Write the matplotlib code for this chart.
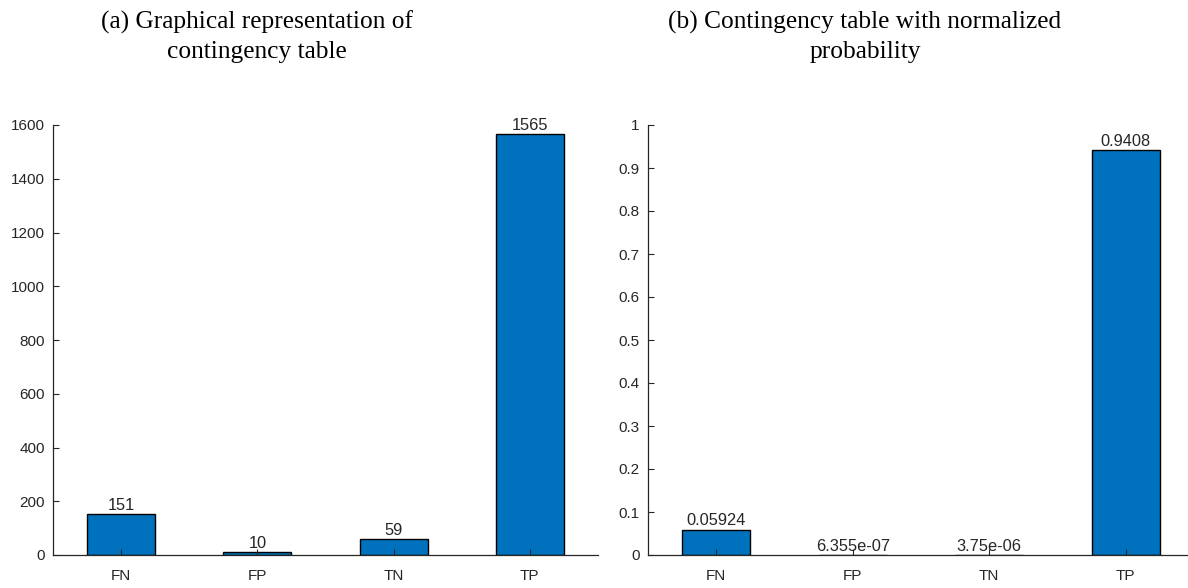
import numpy as np
import matplotlib
matplotlib.use("Agg")
import matplotlib.pyplot as plt

categories = ["FN", "FP", "TN", "TP"]
counts = [151, 10, 59, 1565]
probs = [0.05924, 6.355e-07, 3.75e-06, 0.9408]

bar_color = "#0072BD"
ink = "#262626"

plt.rcParams["font.family"] = ["Liberation Sans", "DejaVu Sans"]
plt.rcParams["font.size"] = 11

fig = plt.figure(figsize=(11.88, 5.88), dpi=100)
ax1 = fig.add_axes([53 / 1188, 33 / 588, 545 / 1188, 430 / 588])
ax2 = fig.add_axes([648 / 1188, 33 / 588, 546 / 1188, 430 / 588])


def draw(ax, vals, ymax, yticks, ylabels):
    x = np.arange(1, len(categories) + 1)
    ax.bar(x, vals, width=0.5, color=bar_color, edgecolor="black", linewidth=1.0)
    for xi, v in zip(x, vals):
        ax.text(xi, v + ymax * 0.003, "%.4g" % v, ha="center", va="bottom",
                fontsize=11.8, color=ink)
    ax.set_xlim(0.5, 4.5)
    ax.set_ylim(0, ymax)
    ax.set_xticks(x)
    ax.set_xticklabels(categories)
    ax.set_yticks(yticks)
    ax.set_yticklabels(ylabels)
    ax.tick_params(direction="in", length=4, width=0.8, colors=ink,
                   labelsize=11, labelcolor=ink)
    ax.tick_params(axis="x", pad=10)
    ax.tick_params(axis="y", pad=6)
    for s in ("top", "right"):
        ax.spines[s].set_visible(False)
    for s in ("left", "bottom"):
        ax.spines[s].set_color(ink)
        ax.spines[s].set_linewidth(0.9)


yt1 = np.arange(0, 1601, 200)
draw(ax1, counts, 1600, yt1, [str(v) for v in yt1])
yt2 = np.round(np.arange(0, 1.01, 0.1), 1)
draw(ax2, probs, 1.0, yt2, ["%g" % v for v in yt2])

title_kw = dict(ha="center", va="top", fontsize=18.3, family="Liberation Serif",
                linespacing=1.38, color="black")
fig.text(257 / 1188, 1 - 11 / 588, "(a) Graphical representation of\ncontingency table",
         **title_kw)
fig.text(865 / 1188, 1 - 11 / 588, "(b) Contingency table with normalized\nprobability",
         **title_kw)

fig.savefig("out.png", dpi=100)
